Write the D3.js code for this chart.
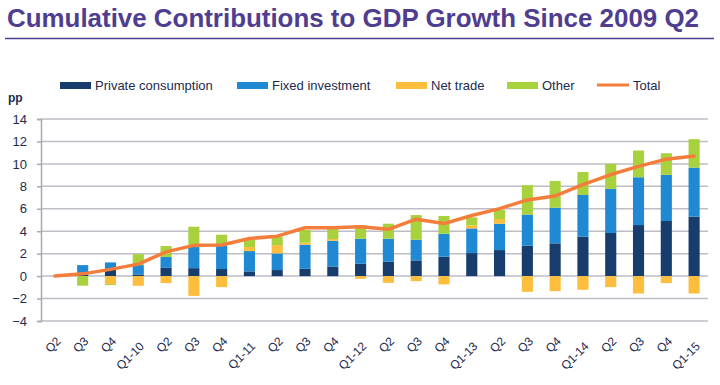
<!DOCTYPE html>
<html><head><meta charset="utf-8">
<script src="https://cdn.jsdelivr.net/npm/d3@7"></script>
<style>
html,body{margin:0;padding:0;background:#fff;}
svg text{font-family:"Liberation Sans",Arial,sans-serif;}
</style></head>
<body><svg id="chart" width="720" height="385"></svg>
<script>
const categories = ["Q2","Q3","Q4","Q1-10","Q2","Q3","Q4","Q1-11","Q2","Q3","Q4","Q1-12","Q2","Q3","Q4","Q1-13","Q2","Q3","Q4","Q1-14","Q2","Q3","Q4","Q1-15"];
const privateConsumption = [0,0.12,0.6,0.15,0.77,0.71,0.63,0.42,0.54,0.65,0.86,1.10,1.28,1.40,1.73,2.05,2.32,2.71,2.92,3.51,3.84,4.55,4.91,5.30];
const fixedInvestment   = [0,0.86,0.62,0.83,0.93,1.88,2.08,1.81,1.48,2.15,2.29,2.23,2.05,1.84,2.05,2.20,2.35,2.77,3.18,3.72,3.93,4.26,4.11,4.37];
const netTrade          = [0,0,-0.71,-0.86,-0.62,-1.76,-0.98,0.36,0.74,0.18,0.15,-0.24,-0.6,-0.45,-0.74,0.27,0.42,-1.40,-1.34,-1.22,-0.98,-1.55,-0.62,-1.55];
const other             = [0,-0.85,-0.09,0.98,0.98,1.81,0.98,0.62,0.74,1.13,0.89,1.22,1.34,2.20,1.58,0.71,0.80,2.62,2.38,2.05,2.23,2.38,1.93,2.53];
const total             = [0,0.2,0.6,1.07,2.16,2.74,2.77,3.35,3.56,4.31,4.30,4.39,4.17,5.07,4.68,5.40,6.01,6.79,7.14,8.15,9.05,9.78,10.42,10.71];
const seriesNames = ["Private consumption","Fixed investment","Net trade","Other"];
const totalName = "Total";
const yTicks = [-4,-2,0,2,4,6,8,10,12,14];
const titleText = "Cumulative Contributions to GDP Growth Since 2009 Q2";

const colors = {"Private consumption":"#163D6C","Fixed investment":"#1F8AD3","Net trade":"#FDBE3D","Other":"#A7D23D","Total":"#F47D3B"};
const navy = "#1C2B4F";

const svg = d3.select("#chart");
const L = 41, R = 708, T = 119, B = 321;

// title
svg.append("text").attr("x",7).attr("y",27)
  .attr("font-size",26).attr("font-weight","bold").attr("fill","#4F3D8F")
  .attr("textLength",692).attr("lengthAdjust","spacingAndGlyphs")
  .text(titleText);
svg.append("line").attr("x1",5).attr("x2",714).attr("y1",38.5).attr("y2",38.5)
  .attr("stroke","#4F3D8F").attr("stroke-width",1.5);

const rows = categories.map((c,i)=>({i, "Private consumption":privateConsumption[i], "Fixed investment":fixedInvestment[i], "Net trade":netTrade[i], "Other":other[i]}));

const x = d3.scaleBand().domain(categories.map((c,i)=>i)).range([L,R]).paddingInner(0.6).paddingOuter(0.3);
const y = d3.scaleLinear().domain([-4,14]).range([B,T]);

// gridlines
svg.append("g").selectAll("line").data(yTicks).join("line")
  .attr("x1",L).attr("x2",R).attr("y1",d=>y(d)).attr("y2",d=>y(d))
  .attr("stroke","#BDBDC6").attr("stroke-width",1.5);

// y axis
const yAxis = svg.append("g").attr("transform",`translate(${L},0)`)
  .call(d3.axisLeft(y).tickValues(yTicks).tickSize(4).tickPadding(10).tickFormat(d3.format("d")));
yAxis.select(".domain").attr("stroke","#A9A9B2").attr("stroke-width",1.5);
yAxis.selectAll(".tick line").attr("stroke","#A9A9B2").attr("stroke-width",1.5);
yAxis.selectAll("text").attr("font-size",13).attr("fill",navy).attr("font-family","Liberation Sans, Arial, sans-serif");

// stacks
const stack = d3.stack().keys(seriesNames).offset(d3.stackOffsetDiverging);
const layers = stack(rows);
svg.append("g").selectAll("g").data(layers).join("g")
  .attr("fill",d=>colors[d.key])
  .selectAll("rect").data(d=>d).join("rect")
  .attr("x",d=>x(d.data.i)).attr("width",x.bandwidth())
  .attr("y",d=>y(Math.max(d[0],d[1])))
  .attr("height",d=>Math.abs(y(d[0])-y(d[1])));

// total line
const line = d3.line().x((d,i)=>x(i)+x.bandwidth()/2).y(d=>y(d));
svg.append("path").datum(total).attr("d",line)
  .attr("fill","none").attr("stroke",colors.Total).attr("stroke-width",3.5)
  .attr("stroke-linejoin","round").attr("stroke-linecap","round");

// x labels
const xAxis = svg.append("g").attr("transform",`translate(0,${B})`)
  .call(d3.axisBottom(x).tickSize(0).tickFormat(i=>categories[i]));
xAxis.select(".domain").remove();
xAxis.selectAll("text")
  .attr("font-size",12).attr("fill",navy).attr("font-family","Liberation Sans, Arial, sans-serif")
  .attr("text-anchor","end").attr("dy",0).attr("y",0)
  .attr("transform",d=>`translate(${x.bandwidth()/2+1},${categories[d].length>2?26:21}) rotate(-45)`);

// legend
const legendItems = [
  {name:"Private consumption", sx:60, tx:95},
  {name:"Fixed investment", sx:237, tx:272},
  {name:"Net trade", sx:396, tx:431},
  {name:"Other", sx:507, tx:542},
  {name:"Total", sx:597, tx:633}
];
const lg = svg.append("g");
legendItems.forEach(it=>{
  if(it.name===totalName){
    lg.append("line").attr("x1",it.sx).attr("x2",it.sx+32).attr("y1",85).attr("y2",85)
      .attr("stroke",colors[it.name]).attr("stroke-width",3);
  } else {
    lg.append("rect").attr("x",it.sx).attr("y",82).attr("width",31).attr("height",7).attr("fill",colors[it.name]);
  }
  lg.append("text").attr("x",it.tx).attr("y",90).attr("font-size",13).attr("fill",navy).text(it.name);
});
svg.append("text").attr("x",8).attr("y",102).attr("font-size",12).attr("font-weight","bold").attr("fill",navy).text("pp");
</script></body></html>
